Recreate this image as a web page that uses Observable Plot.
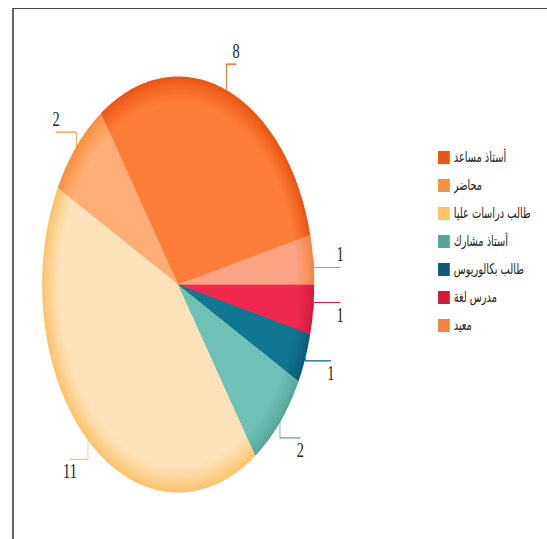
<!DOCTYPE html>
<html>
<head>
<meta charset="utf-8">
<script src="https://cdn.jsdelivr.net/npm/d3@7"></script>
<script src="https://cdn.jsdelivr.net/npm/@observablehq/plot@0.6"></script>
<style>
  html, body { margin: 0; padding: 0; background: #fff; overflow: hidden; width: 547px; height: 539px; }
  #frame { position: absolute; left: 12px; top: 8px; width: 700px; height: 700px;
           border-left: 2px solid #666; border-top: 1.5px solid #444; }
  #stage { position: absolute; left: 0; top: 0; width: 837px; height: 539px;
           transform: scaleX(0.6538); transform-origin: 0 0; }
  #legend { position: absolute; left: 670px; top: 143px; }
  .lg-swatches { font-family: "DejaVu Sans", sans-serif !important; font-size: 15px !important; color: #222; margin: 0 !important; }
  .lg-swatch { height: 28px !important; padding: 0 !important; display: flex !important; align-items: center !important; }
  .lg-swatch svg { margin-right: 6px !important; }
</style>
</head>
<body>
<div id="frame"></div>
<div id="stage"><div id="chart"></div><div id="legend"></div></div>
<script>
// ---- data ----
const categories = ["أستاذ مساعد", "محاضر", "طالب دراسات عليا", "أستاذ مشارك", "طالب بكالوريوس", "مدرس لغة", "معيد"];
const values = [8, 2, 11, 2, 1, 1, 1];
const legendColors = ["#ea5512", "#f8913f", "#fcc36a", "#58a598", "#0c5c78", "#d31b3e", "#f7843e"];
const sliceColors = ["#fd7e38", "#fcae76", "#fde2ba", "#6fc1b6", "#0f7890", "#f2294f", "#fba382"];

// ---- layout constants ----
const W = 837, H = 539;
const startDeg = -13.85;   // first slice begins just above 3 o'clock, running counterclockwise
const rad = Math.PI / 180;
const labelR = 1.2;
const rings = 10, rimDepth = 0.12;

const total = d3.sum(values);
const unit = 360 / total;
let cum = 0;
const slices = categories.map((cat, i) => {
  const a0 = startDeg - cum * unit;
  const a1 = a0 - values[i] * unit;
  cum += values[i];
  return {cat, value: values[i], a0, a1, mid: (a0 + a1) / 2, i};
});

function slicePoly(s, r) {
  const pts = [{cat: s.cat, x: 0, y: 0}];
  const n = Math.max(2, Math.ceil(Math.abs(s.a1 - s.a0)));
  for (let k = 0; k <= n; k++) {
    const a = (s.a0 + (s.a1 - s.a0) * k / n) * rad;
    pts.push({cat: s.cat, x: r * Math.cos(a), y: r * Math.sin(a)});
  }
  pts.push({cat: s.cat, x: 0, y: 0});
  return pts;
}

// outer slices (rim colour through the colour scale)
const outerPts = slices.flatMap(s => slicePoly(s, 1));

// inner shading rings: from rim colour to lighter body colour
const ringMarks = [];
for (let k = 1; k <= rings; k++) {
  const r = 1 - rimDepth * k / rings;
  const t = Math.pow(k / rings, 0.8);
  for (const s of slices) {
    ringMarks.push(Plot.line(slicePoly(s, r), {
      x: "x", y: "y",
      fill: d3.interpolateRgb(legendColors[s.i], sliceColors[s.i])(t),
      stroke: "none", curve: "linear"
    }));
  }
}

// leader lines and labels
const leaderPts = [];
const labels = [];
for (const s of slices) {
  const a = s.mid * rad;
  const c = Math.cos(a), sn = Math.sin(a);
  const lx = labelR * c, ly = labelR * sn;
  const lineY = sn < 0 ? ly + 0.063 : ly - 0.058;
  leaderPts.push({cat: s.cat, x: c, y: sn});
  leaderPts.push({cat: s.cat, x: c, y: lineY});
  leaderPts.push({cat: s.cat, x: lx, y: lineY});
  labels.push({cat: s.cat, value: s.value, x: lx, y: ly});
}

const chart = Plot.plot({
  width: W, height: H,
  marginTop: 0, marginBottom: 0, marginLeft: 0, marginRight: 0,
  x: {domain: [-1, 1], range: [64, 480], axis: null},
  y: {domain: [-1, 1], range: [76, 492], axis: null},
  color: {type: "ordinal", domain: categories, range: legendColors},
  style: {fontFamily: "'Liberation Serif', serif", background: "transparent", overflow: "visible"},
  marks: [
    Plot.line(outerPts, {x: "x", y: "y", z: "cat", fill: "cat", stroke: "none", curve: "linear"}),
    ...ringMarks,
    Plot.line(leaderPts, {x: "x", y: "y", z: "cat", stroke: "cat", strokeWidth: 1.2, curve: "linear"}),
    Plot.text(labels, {x: "x", y: "y", text: "value", fontSize: 22, fill: "#222"})
  ]
});
document.getElementById("chart").appendChild(chart);

const legend = Plot.legend({
  color: {type: "ordinal", domain: categories, range: legendColors},
  legend: "swatches",
  columns: 1,
  swatchWidth: 18,
  swatchHeight: 13,
  className: "lg"
});
document.getElementById("legend").appendChild(legend);
</script>
</body>
</html>
